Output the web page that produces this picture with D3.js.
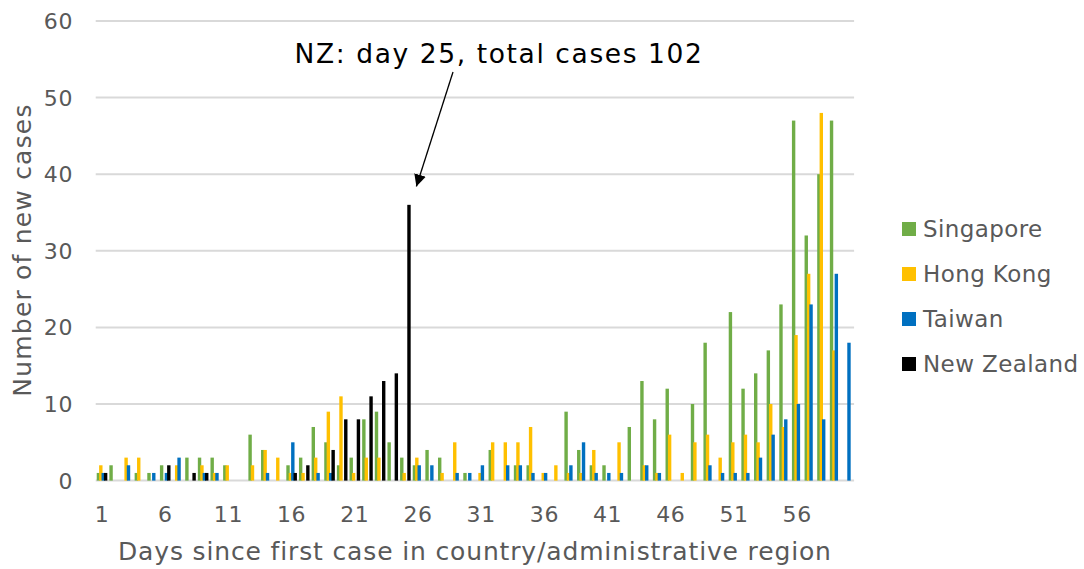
<!DOCTYPE html>
<html>
<head>
<meta charset="utf-8">
<script src="https://cdn.jsdelivr.net/npm/d3@7"></script>
<style>
  body { margin: 0; background: #fff; }
  svg { font-family: "DejaVu Sans", Verdana, sans-serif; }
</style>
</head>
<body>
<div id="chart"></div>
<script>
var width = 1084;
var height = 569;

// days since first case
var days = d3.range(1, 61);
var series = ["Singapore", "Hong Kong", "Taiwan", "New Zealand"];
var colors = ["#70ad47", "#ffc000", "#0070c0", "#000000"];

//new cases per day
var singapore = [1,2,0,1,1,2,0,3,3,3, 2,0,6,4,0,2,3,7,5,2, 3,8,9,5,3,2,4,3,0,1,
                 0,4,0,2,2,0,0,9,4,2, 2,0,7,13,8,12,0,10,18,0, 22,12,14,17,23,47,32,40,47,0];
var hongKong  = [2,0,3,3,0,0,2,0,2,1, 2,0,2,4,3,1,1,3,9,11, 1,3,3,0,1,3,0,1,5,0,
                 1,5,5,5,7,1,2,1,1,4, 0,5,0,2,1,6,1,5,6,3, 5,6,5,10,7,19,27,48,17,0];
var taiwan    = [1,0,2,0,1,1,3,0,1,1, 0,0,0,1,0,5,0,1,1,0, 0,0,0,0,0,2,2,0,1,1,
                 2,0,2,2,1,1,0,2,5,1, 1,1,0,2,1,0,0,0,2,1, 1,1,3,6,8,10,23,8,27,18];
var newZealand= [1,0,0,0,0,2,0,1,1,0, 0,0,0,0,0,1,2,0,4,8, 8,11,13,14,36,0,0,0,0,0,
                 0,0,0,0,0,0,0,0,0,0, 0,0,0,0,0,0,0,0,0,0, 0,0,0,0,0,0,0,0,0,0];
var allSeries = [singapore, hongKong, taiwan, newZealand];

var yTicks = [0, 10, 20, 30, 40, 50, 60];
var xTicks = [1, 6, 11, 16, 21, 26, 31, 36, 41, 46, 51, 56];

var svg = d3.select("#chart").append("svg")
  .attr("width", width)
  .attr("height", height);

var x = d3.scaleBand().domain(days).range([95.7, 854.1]).padding(0);
var y = d3.scaleLinear().domain([0, 60]).range([480.6, 21]);

//bars in a group overlap a bit, like the original
var barW = 3.4;
var offset = d3.scalePoint().domain(series).range([-3.6, 3.6]);

// gridlines
svg.append("g").selectAll("line")
  .data(yTicks)
  .enter().append("line")
  .attr("x1", x.range()[0])
  .attr("x2", x.range()[1])
  .attr("y1", d => y(d))
  .attr("y2", d => y(d))
  .attr("stroke", "#d9d9d9")
  .attr("stroke-width", 2);

// y tick labels
svg.append("g").selectAll("text")
  .data(yTicks)
  .enter().append("text")
  .attr("x", 73)
  .attr("y", d => y(d))
  .attr("dy", "0.36em")
  .attr("text-anchor", "end")
  .attr("font-size", 22)
  .attr("letter-spacing", 0.6)
  .attr("fill", "#595959")
  .text(d => d);

// x tick labels
svg.append("g").selectAll("text")
  .data(xTicks)
  .enter().append("text")
  .attr("x", d => x(d) + x.bandwidth() / 2)
  .attr("y", 522)
  .attr("text-anchor", "middle")
  .attr("font-size", 22)
  .attr("letter-spacing", 0.6)
  .attr("fill", "#595959")
  .text(d => d);

// bars
series.forEach(function(s, i) {
  svg.append("g")
    .attr("fill", colors[i])
    .selectAll("rect")
    .data(days.map((d, j) => ({day: d, value: allSeries[i][j]})).filter(d => d.value > 0))
    .enter().append("rect")
    .attr("x", d => x(d.day) + x.bandwidth() / 2 + offset(s) - barW / 2)
    .attr("width", barW)
    .attr("y", d => y(d.value))
    .attr("height", d => y(0) - y(d.value));
});

// axis titles
svg.append("text")
  .attr("x", (x.range()[0] + x.range()[1]) / 2)
  .attr("y", 560)
  .attr("text-anchor", "middle")
  .attr("font-size", 25)
  .attr("letter-spacing", 0.85)
  .attr("fill", "#595959")
  .text("Days since first case in country/administrative region");

svg.append("text")
  .attr("transform", "translate(31,250) rotate(-90)")
  .attr("text-anchor", "middle")
  .attr("font-size", 25)
  .attr("letter-spacing", 1.2)
  .attr("fill", "#595959")
  .text("Number of new cases");

// legend
var legend = svg.append("g").selectAll("g")
  .data(series)
  .enter().append("g")
  .attr("transform", (d, i) => "translate(902," + (222 + i * 45) + ")");

legend.append("rect")
  .attr("width", 14)
  .attr("height", 14)
  .attr("fill", (d, i) => colors[i]);

legend.append("text")
  .attr("x", 21)
  .attr("y", 15)
  .attr("font-size", 23)
  .attr("letter-spacing", 0.4)
  .attr("fill", "#595959")
  .text(d => d);

// annotation for NZ
svg.append("defs").append("marker")
  .attr("id", "arrow")
  .attr("viewBox", "0 0 10 10")
  .attr("refX", 10)
  .attr("refY", 5)
  .attr("markerWidth", 12)
  .attr("markerHeight", 12)
  .attr("markerUnits", "userSpaceOnUse")
  .attr("orient", "auto")
  .append("path")
  .attr("d", "M0,0 L10,5 L0,10 Z")
  .attr("fill", "#000");

var tipX = x(25) + x.bandwidth() / 2 + 11;
svg.append("line")
  .attr("x1", 453)
  .attr("y1", 72)
  .attr("x2", tipX)
  .attr("y2", y(38.4))
  .attr("stroke", "#000")
  .attr("stroke-width", 1.3)
  .attr("marker-end", "url(#arrow)");

svg.append("text")
  .attr("x", 499)
  .attr("y", 63)
  .attr("text-anchor", "middle")
  .attr("font-size", 26.5)
  .attr("letter-spacing", 1.6)
  .attr("fill", "#000")
  .text("NZ: day 25, total cases 102");
</script>
</body>
</html>
